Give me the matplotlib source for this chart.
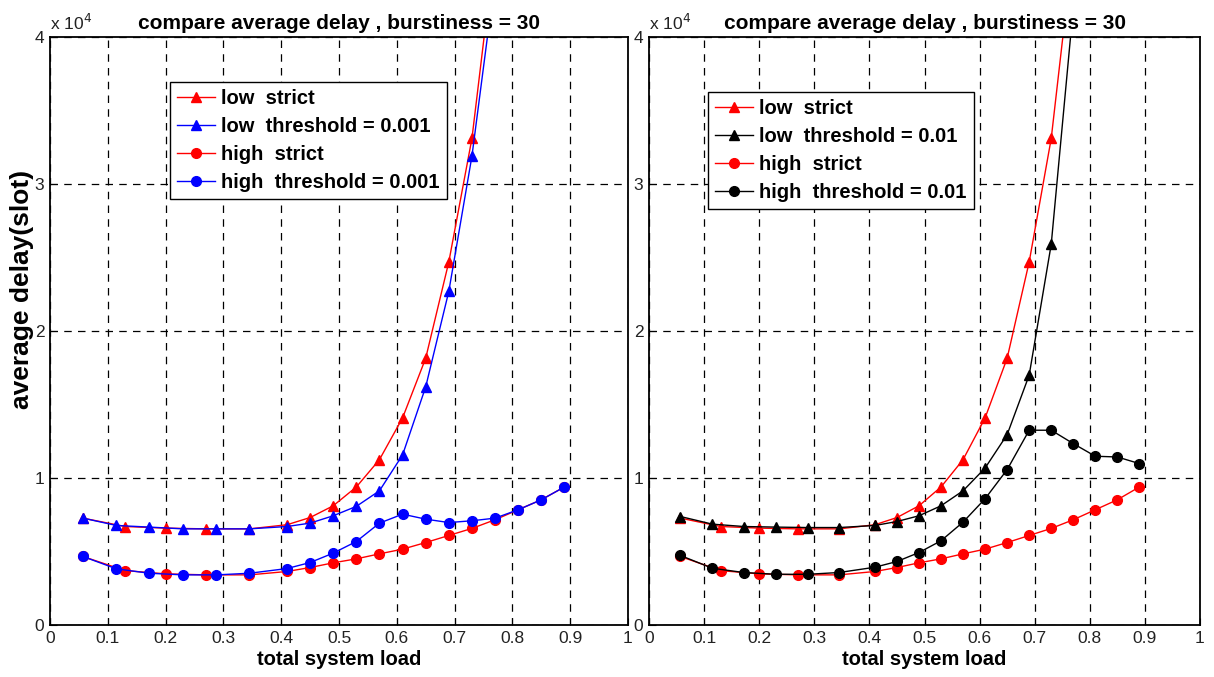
import matplotlib.pyplot as plt
from matplotlib.ticker import FuncFormatter

plt.rcParams['font.family'] = ['Liberation Sans', 'DejaVu Sans']

# x positions (total system load)
load_strict = [0.057, 0.13, 0.20, 0.27, 0.345, 0.41, 0.45, 0.49, 0.53, 0.57,
               0.61, 0.65, 0.69, 0.73, 0.77, 0.81, 0.85, 0.89]
load_thr = [0.057, 0.115, 0.172, 0.23, 0.288, 0.345, 0.41, 0.45, 0.49, 0.53,
            0.57, 0.61, 0.65, 0.69, 0.73, 0.77, 0.81, 0.85, 0.89]

# strict scheme (same in both panels)
low_strict = [7270, 6700, 6590, 6540, 6540, 6820, 7310, 8110, 9390, 11250,
              14090, 18150, 24700, 33100, 46200]
high_strict = [4660, 3700, 3480, 3410, 3410, 3640, 3910, 4230, 4500, 4840,
               5160, 5610, 6090, 6570, 7160, 7840, 8520, 9390]

# threshold = 0.001 (left)
low_thr_001 = [7270, 6770, 6660, 6540, 6540, 6540, 6700, 6930, 7430, 8070,
               9130, 11570, 16200, 22700, 31900, 44000]
high_thr_001 = [4660, 3820, 3520, 3410, 3410, 3520, 3840, 4250, 4890, 5680,
                6930, 7540, 7200, 6970, 7090, 7270, 7840, 8520, 9390]

# threshold = 0.01 (right)
low_thr_01 = [7380, 6860, 6700, 6660, 6630, 6630, 6770, 7040, 7430, 8110,
              9130, 10680, 12950, 17000, 25900, 42000]
high_thr_01 = [4730, 3860, 3570, 3450, 3450, 3570, 3930, 4320, 4930, 5730,
               7000, 8590, 10570, 13250, 13250, 12340, 11480, 11430, 10980]

title = "compare average delay , burstiness = 30"

fig = plt.figure(figsize=(12.14, 6.77), dpi=100)
ax1 = fig.add_axes([50 / 1214, 52 / 677, 578 / 1214, 588 / 677])
ax2 = fig.add_axes([649 / 1214, 52 / 677, 551 / 1214, 588 / 677])


def draw(ax, thr_color, thr_label, low_thr, high_thr, legend_pos):
    ms = 7
    ax.plot(load_strict[:len(low_strict)], low_strict, color='red', marker='^',
            ms=ms, lw=1, label='low  strict')
    ax.plot(load_thr[:len(low_thr)], low_thr, color=thr_color, marker='^',
            ms=ms, lw=1, label='low  threshold = ' + thr_label)
    ax.plot(load_strict, high_strict, color='red', marker='o',
            ms=ms, lw=1, label='high  strict')
    ax.plot(load_thr, high_thr, color=thr_color, marker='o',
            ms=ms, lw=1, label='high  threshold = ' + thr_label)
    ax.set_xlim(0, 1)
    ax.set_ylim(0, 40000)
    ax.set_xticks([i / 10 for i in range(11)])
    ax.set_yticks([0, 10000, 20000, 30000, 40000])
    ax.xaxis.set_major_formatter(FuncFormatter(lambda v, p: '%g' % round(v, 1)))
    ax.yaxis.set_major_formatter(FuncFormatter(lambda v, p: '%g' % (v / 1e4)))
    ax.tick_params(direction='in', labelsize=12.5, length=5, pad=4,
                   colors='black', labelcolor='#222222')
    ax.grid(True, color='black', linestyle=(0, (6, 5)), linewidth=0.9)
    for s in ax.spines.values():
        s.set_linewidth(1.3)
    ax.set_title(title, fontsize=15, fontweight='bold', pad=6)
    ax.set_xlabel('total system load', fontsize=14.5, fontweight='bold', labelpad=3)
    ax.text(0.0, 1.006, r'x 10$^4$', transform=ax.transAxes, fontsize=12.5,
            ha='left', va='bottom', color='#222222')
    leg = ax.legend(loc='upper left', bbox_to_anchor=legend_pos,
                    prop={'weight': 'bold', 'size': 14.5}, fancybox=False,
                    framealpha=1, edgecolor='black', handlelength=1.9,
                    handletextpad=0.3, labelspacing=0.45, borderpad=0.35,
                    borderaxespad=0)
    leg.get_frame().set_linewidth(1.0)


draw(ax1, 'blue', '0.001', low_thr_001, high_thr_001,
     ((170 - 50) / 578, (625 - 82) / 588))
draw(ax2, 'black', '0.01', low_thr_01, high_thr_01,
     ((708 - 649) / 551, (625 - 92) / 588))
ax1.set_ylabel('average delay(slot)', fontsize=19, fontweight='bold')
ax1.yaxis.set_label_coords(-0.028, 0.57)

fig.savefig('out.png', dpi=100)
